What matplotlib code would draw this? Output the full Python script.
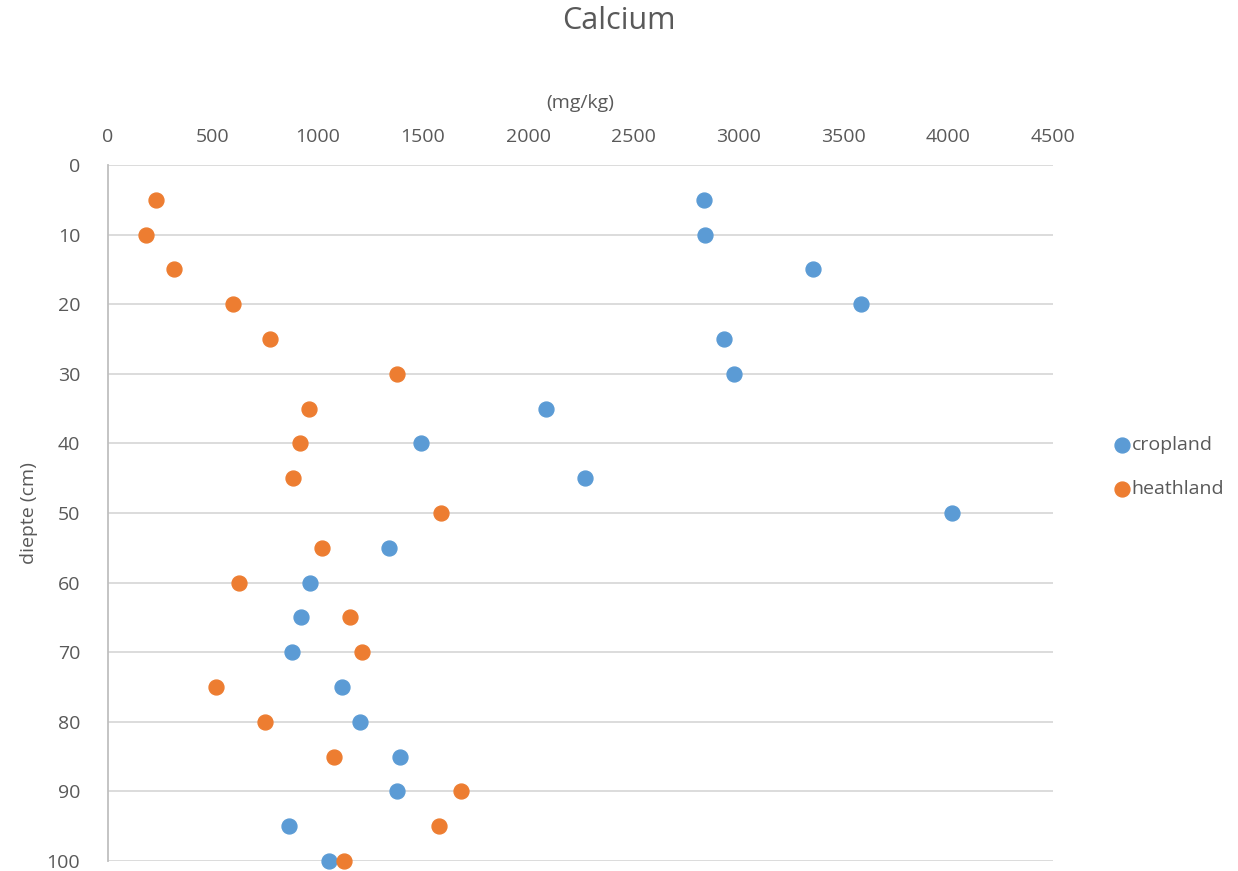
import matplotlib.pyplot as plt
import matplotlib
matplotlib.rcParams['font.family'] = ['Open Sans', 'DejaVu Sans']

depth = [5, 10, 15, 20, 25, 30, 35, 40, 45, 50, 55, 60, 65, 70, 75, 80, 85, 90, 95, 100]
cropland = [2836, 2841, 3359, 3587, 2931, 2983, 2086, 1492, 2271, 4019,
            1340, 964, 917, 874, 1112, 1202, 1392, 1378, 860, 1050]
heathland = [228, 181, 314, 594, 770, 1378, 955, 912, 879, 1587,
             1017, 622, 1150, 1211, 513, 746, 1078, 1682, 1577, 1126]
x_ticks = [0, 500, 1000, 1500, 2000, 2500, 3000, 3500, 4000, 4500]
y_ticks = [0, 10, 20, 30, 40, 50, 60, 70, 80, 90, 100]

txt = '#595959'
fig = plt.figure(figsize=(12.38, 8.71), dpi=100)
ax = fig.add_axes([108/1238, 1 - 861/871, (1053 - 108)/1238, (861 - 165)/871])

ax.scatter(cropland, depth, s=115, color='#5B9BD5', label='cropland', zorder=3, clip_on=False)
ax.scatter(heathland, depth, s=115, color='#ED7D31', label='heathland', zorder=3, clip_on=False)

ax.set_xlim(0, 4500)
ax.set_ylim(100, 0)
ax.set_xticks(x_ticks)
ax.set_yticks(y_ticks)
ax.xaxis.tick_top()
ax.xaxis.set_label_position('top')
ax.tick_params(length=0, labelsize=14, colors=txt)
ax.tick_params(axis='x', pad=14)
ax.tick_params(axis='y', pad=20)
ax.grid(axis='y', color='#D9D9D9', linewidth=1.3)
ax.set_axisbelow(True)
for s in ['top', 'right', 'bottom']:
    ax.spines[s].set_visible(False)
ax.spines['left'].set_color('#BFBFBF')
ax.spines['left'].set_linewidth(1.3)

ax.set_xlabel('(mg/kg)', fontsize=14, color=txt)
ax.xaxis.set_label_coords(0.5, 1 + (165 - 108) / 696)
ax.set_ylabel('diepte (cm)', fontsize=14, color=txt)
ax.yaxis.set_label_coords(-0.074, 0.5)
fig.text(0.5, 1 - 21/871, 'Calcium', fontsize=22, color=txt, ha='center', va='center')

leg = fig.legend(loc='center left', bbox_to_anchor=(1115/1238, 1 - 467/871), frameon=False,
                 fontsize=14, handlelength=0.7, handletextpad=0.15, labelspacing=1.35,
                 borderaxespad=0, borderpad=0, markerscale=1.0)
for t in leg.get_texts():
    t.set_color(txt)

fig.savefig('out.png', dpi=100)
